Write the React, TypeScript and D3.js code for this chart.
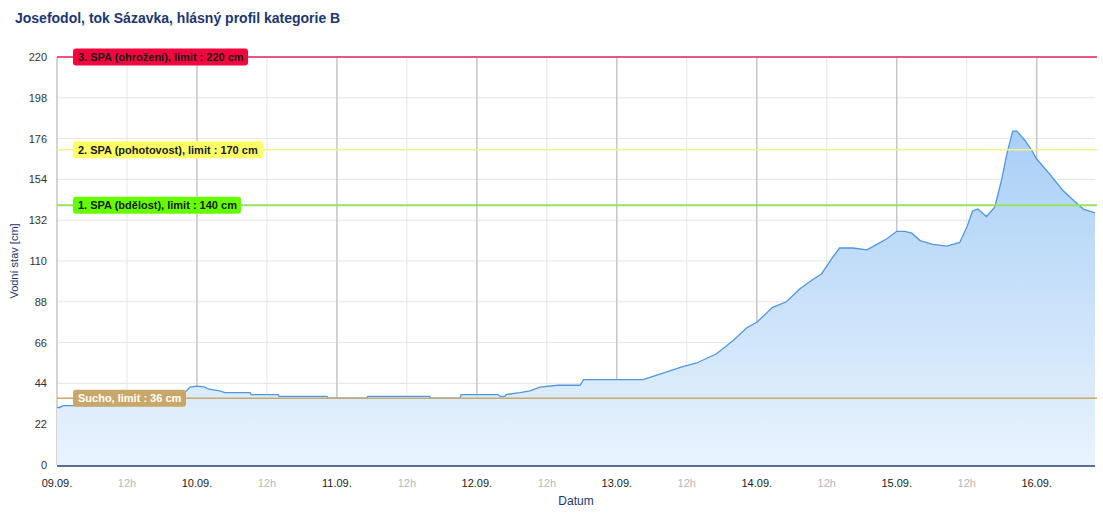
import React from "react";
import * as d3 from "d3";

const TITLE = "Josefodol, tok Sázavka, hlásný profil kategorie B";
const Y_TITLE = "Vodní stav [cm]";
const X_TITLE = "Datum";

const yTicks = [0, 22, 44, 66, 88, 110, 132, 154, 176, 198, 220];
const dayLabels = ["09.09.", "10.09.", "11.09.", "12.09.", "13.09.", "14.09.", "15.09.", "16.09."];

// hours since 09.09. 00:00
const hours = [
  0, 0.5, 1, 9.4, 9.8, 10.5, 21.5, 21.9, 22.8, 24, 25.4, 25.9, 27.9, 28.8, 33.1, 33.3, 37.9, 38.1,
  46.3, 46.5, 53.1, 53.3, 63.9, 64.1, 69.1, 69.3, 75.6, 76, 76.8, 77, 79.4, 81.1, 82.8, 85.9, 89.7,
  90.3, 100.5, 103.4, 107.3, 109.7, 113.1, 115.9, 118.3, 120, 122.7, 125.1, 127.4, 129.6, 131.1, 133,
  134.2, 136.5, 138.9, 140.6, 142.3, 144, 145.4, 146.6, 148, 150.2, 152.6, 154.8, 156, 157, 157.9,
  159.4, 160.8, 162, 162.9, 163.9, 164.6, 166, 167.1, 168, 170.2, 172.5, 174.9, 176, 178,
];
const levels = [
  31, 31, 32, 32, 34, 36, 37, 39, 42, 42.5, 42, 41, 40, 39, 39, 38, 38, 37,
  37, 36, 36, 37, 37, 36, 36, 38, 38, 37, 37, 38, 39, 40, 42, 43, 43,
  46, 46, 49, 53, 55, 60, 67, 74, 77, 85, 88, 95, 100, 103, 112,
  117, 117, 116, 119, 122, 126, 126, 125, 121, 119, 118, 120, 128, 137, 138,
  134, 139, 154, 168, 180, 180, 175, 170, 165, 157, 148, 141, 138, 136,
];

const limitValues = [220, 170, 140, 36];
const limitLabels = [
  "3. SPA (ohrožení), limit : 220 cm",
  "2. SPA (pohotovost), limit : 170 cm",
  "1. SPA (bdělost), limit : 140 cm",
  "Sucho, limit : 36 cm",
];
const limitLineColors = ["#e0245a", "#f3f38c", "#94e35c", "#c8aa6e"];
const limitBoxColors = ["#f5053d", "#ffff66", "#66ff00", "#c8a86a"];
const limitTextColors = ["#1a1a1a", "#1a1a1a", "#1a1a1a", "#ffffff"];
const limitBoxWidths = [175, 190, 168, 113];

const W = 1103;
const H = 521;
const left = 57;
const right = 1095;
const top = 57;
const bottom = 465;
const FONT = "'Liberation Sans', Arial, sans-serif";

export default function App() {
  const x = d3.scaleLinear().domain([0, 178]).range([left, right]);
  const y = d3.scaleLinear().domain([0, 220]).range([bottom, top]);
  const data = hours.map((h, i) => ({ h, v: levels[i] }));

  const area = d3
    .area<{ h: number; v: number }>()
    .x((d) => x(d.h))
    .y0(y(0))
    .y1((d) => y(d.v))
    .curve(d3.curveLinear);
  const line = d3
    .line<{ h: number; v: number }>()
    .x((d) => x(d.h))
    .y((d) => y(d.v))
    .curve(d3.curveLinear);

  const dayTicks = dayLabels.map((_, i) => i * 24);
  const halfTicks = dayLabels.map((_, i) => i * 24 + 12).filter((h) => h <= 178);

  return (
    <svg width={W} height={H} style={{ position: "absolute", left: 0, top: 0, background: "#fff" }}>
      <defs>
        <linearGradient id="fillGrad" x1="0" y1={y(180)} x2="0" y2={y(0)} gradientUnits="userSpaceOnUse">
          <stop offset="0" stopColor="#a9cff6" />
          <stop offset="1" stopColor="#e9f3fd" />
        </linearGradient>
      </defs>
      <text x={15} y={23} fontFamily={FONT} fontSize={14} fontWeight="bold" fill="#1d3670">
        {TITLE}
      </text>

      {/* horizontal grid */}
      {yTicks.map((t) => (
        <line key={"hg" + t} x1={left} x2={right} y1={y(t)} y2={y(t)} stroke="#e4e4e4" strokeWidth={1} />
      ))}
      {/* vertical minor grid */}
      {halfTicks.map((t) => (
        <line key={"mg" + t} x1={x(t)} x2={x(t)} y1={top} y2={bottom} stroke="#e6e6e6" strokeWidth={1} />
      ))}
      {/* vertical major grid */}
      {dayTicks.map((t) => (
        <line key={"dg" + t} x1={x(t)} x2={x(t)} y1={top} y2={bottom} stroke="#c6c6c6" strokeWidth={1.5} />
      ))}

      <path d={area(data) || ""} fill="url(#fillGrad)" />
      <path d={line(data) || ""} fill="none" stroke="#4f97e0" strokeWidth={1.3} />

      {/* limit lines */}
      {limitValues.map((v, i) => (
        <line
          key={"ll" + i}
          x1={left}
          x2={right + 2}
          y1={y(v)}
          y2={y(v)}
          stroke={limitLineColors[i]}
          strokeWidth={i === 2 ? 2 : 1.5}
        />
      ))}
      {limitValues.map((v, i) => (
        <g key={"lb" + i}>
          <rect x={73} y={y(v) - 8.5} width={limitBoxWidths[i]} height={17} rx={3} fill={limitBoxColors[i]} />
          <text
            x={78}
            y={y(v) + 4}
            fontFamily={FONT}
            fontSize={11}
            fontWeight="bold"
            fill={limitTextColors[i]}
          >
            {limitLabels[i]}
          </text>
        </g>
      ))}

      {/* x axis line */}
      <line x1={left} x2={right} y1={bottom + 1} y2={bottom + 1} stroke="#5b6d9a" strokeWidth={2} />

      {/* y labels */}
      {yTicks.map((t) => (
        <text
          key={"yl" + t}
          x={47}
          y={y(t) + 4}
          textAnchor="end"
          fontFamily={FONT}
          fontSize={11}
          fill="#333"
        >
          {t}
        </text>
      ))}
      {/* x labels */}
      {dayTicks.map((t, i) => (
        <text
          key={"xl" + t}
          x={x(t)}
          y={487}
          textAnchor="middle"
          fontFamily={FONT}
          fontSize={11}
          fill="#222"
        >
          {dayLabels[i]}
        </text>
      ))}
      {halfTicks.map((t) => (
        <text
          key={"xh" + t}
          x={x(t)}
          y={487}
          textAnchor="middle"
          fontFamily={FONT}
          fontSize={11}
          fill="#b8b8b8"
        >
          12h
        </text>
      ))}

      <text x={576} y={505} textAnchor="middle" fontFamily={FONT} fontSize={12} fill="#1d3670">
        {X_TITLE}
      </text>
      <text
        transform={`translate(18, ${(top + bottom) / 2}) rotate(-90)`}
        textAnchor="middle"
        fontFamily={FONT}
        fontSize={11}
        fill="#1d3670"
      >
        {Y_TITLE}
      </text>
    </svg>
  );
}
